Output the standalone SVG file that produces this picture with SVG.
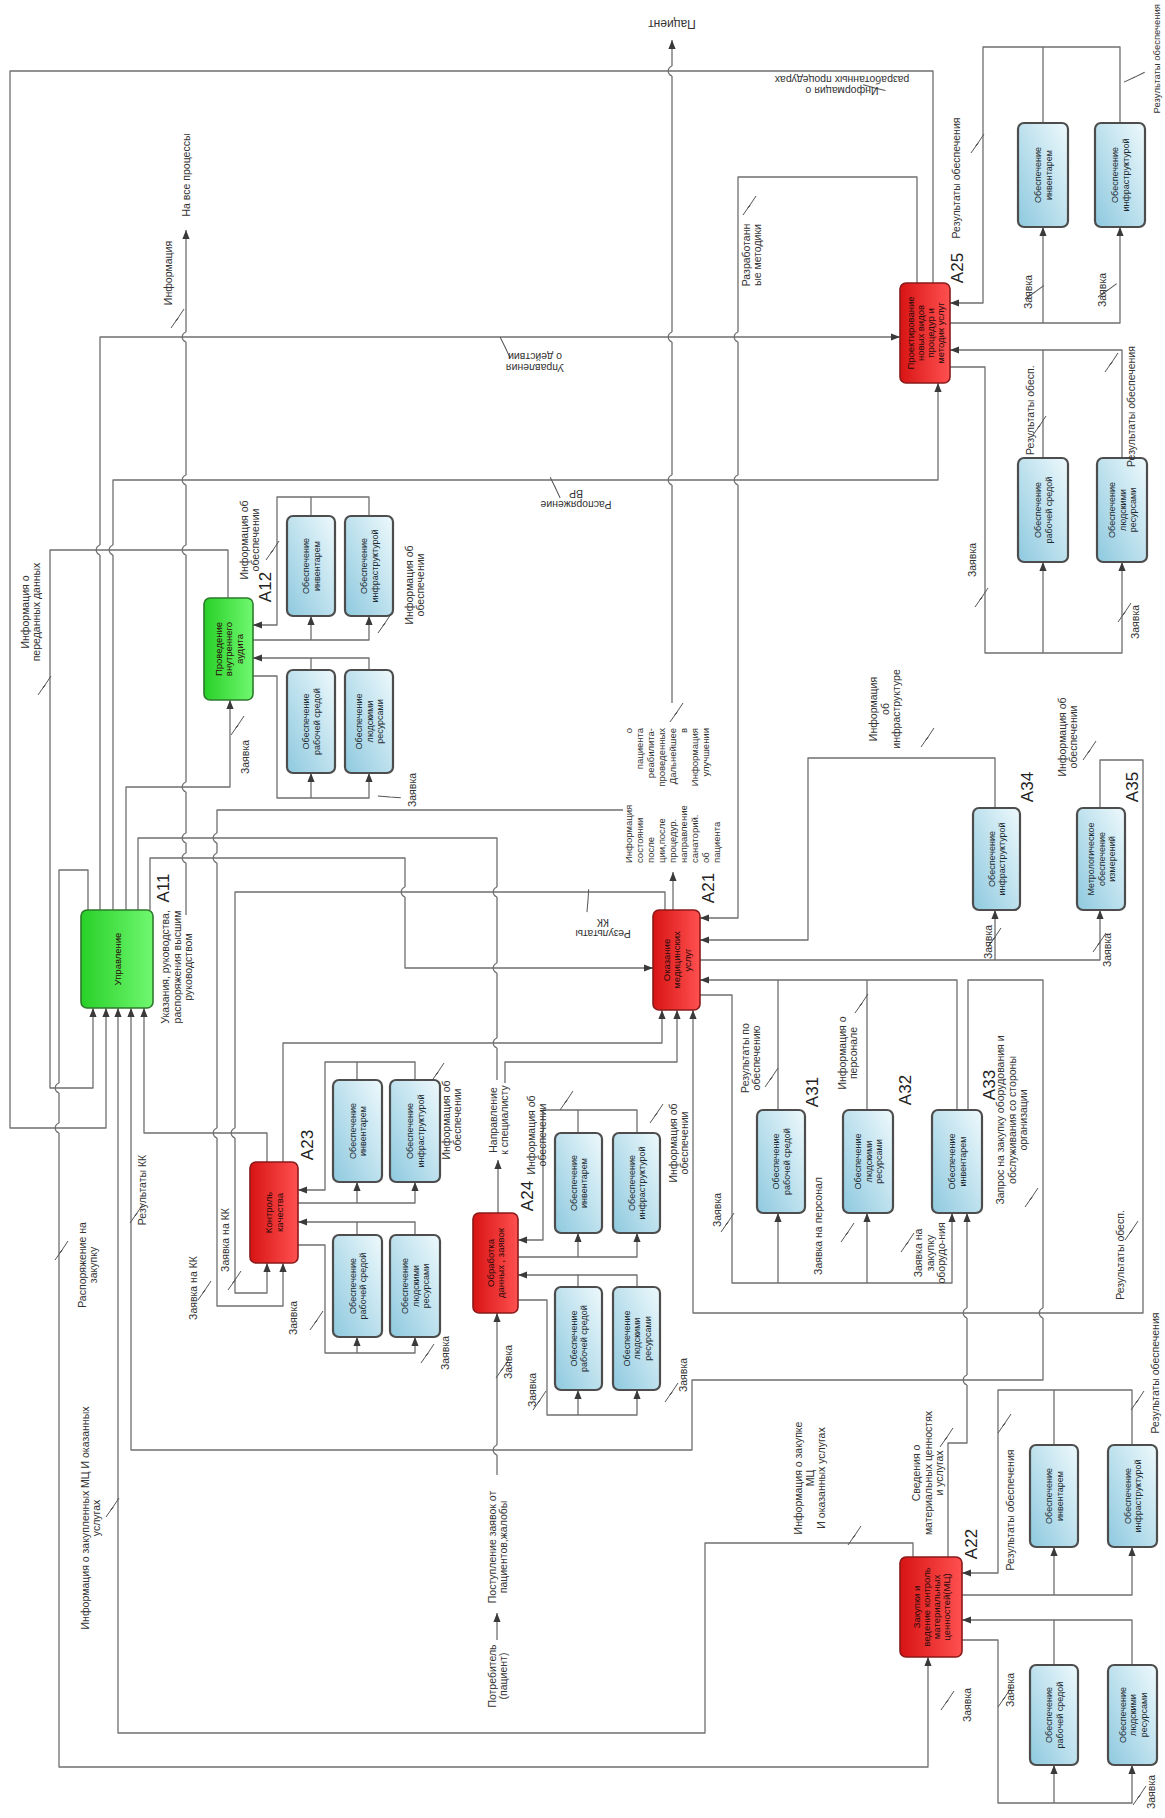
<svg xmlns="http://www.w3.org/2000/svg" width="1165" height="1818" viewBox="0 0 1165 1818">
<style>
.ln{fill:none;stroke:#6f6f6f;stroke-width:1.3;stroke-linejoin:round}
.a{marker-end:url(#arr)}
.zz{fill:none;stroke:#555;stroke-width:1}
text{font-family:"Liberation Sans",Arial,sans-serif;fill:#333}
.t{font-size:10.5px;text-anchor:middle}
.ts{font-size:10.5px;text-anchor:start}
.tj{font-size:9.5px;text-anchor:start}
.te{font-size:9.5px;text-anchor:end}
.big{font-size:17px;text-anchor:middle;fill:#222}
.bt{font-size:9px;text-anchor:middle;fill:#1e2a30}
.mt{font-size:9.5px;text-anchor:middle;fill:#2a0a0a}
.sub{fill:url(#gB);stroke:#4d4d4d;stroke-width:2.2}
.red{fill:url(#gR);stroke:#8a1a1a;stroke-width:1.6}
.grn{fill:url(#gG);stroke:#2c7a2c;stroke-width:1.6}
</style>
<defs>
<marker id="arr" viewBox="0 0 10 8" refX="10" refY="4" markerWidth="9" markerHeight="8" markerUnits="userSpaceOnUse" orient="auto"><path d="M0,0L10,4L0,8z" fill="#3a3a3a"/></marker>
<linearGradient id="gB" x1="0" y1="1" x2="1" y2="0"><stop offset="0" stop-color="#8ec9df"/><stop offset="1" stop-color="#eef9fc"/></linearGradient>
<linearGradient id="gR" x1="0" y1="0" x2="1" y2="0"><stop offset="0" stop-color="#d81414"/><stop offset="1" stop-color="#ff5050"/></linearGradient>
<linearGradient id="gG" x1="0" y1="0" x2="1" y2="0"><stop offset="0" stop-color="#28d028"/><stop offset="1" stop-color="#70f870"/></linearGradient>
<g id="hop"><rect x="-3" y="-5" width="6" height="10" fill="#fff"/><path d="M-3,0H3M0,-5C-5,-3 -5,3 0,5" class="ln"/></g>
<path id="zz" d="M-7,10 L0,0 L-2,3 L6,-9" class="zz"/>
</defs>

<g id="connectors">
<path class="ln a" d="M933,283V71H10V1128H106V1008"/>
<path class="ln a" d="M100,910V337H900"/>
<path class="ln a" d="M113,910V480H938V383"/>
<path class="ln a" d="M126,910V787H230V700"/>
<path class="ln" d="M138,910V838H497V1080"/>
<path class="ln a" d="M150,910V858H405V968H653"/>
<path class="ln a" d="M88,910V870H59V1767H928V1657"/>
<path class="ln a" d="M228,598V550H50V1088H93V1008"/>
<path class="ln a" d="M672,703V40"/>
<path class="ln a" d="M673,910V872"/>
<path class="ln a" d="M917,283V177H738V918H700"/>
<path class="ln a" d="M665,910V892H235V1293H267V1263"/>
<path class="ln a" d="M623,810H217V1306H283V1263"/>
<path class="ln a" d="M267,1162V1133H144V1008"/>
<path class="ln a" d="M283,1162V1043H662V1010"/>
<path class="ln a" d="M968,1110V980H1043V1380H692V1450H131V1008"/>
<path class="ln a" d="M913,1557V1543H705V1733H118V1008"/>
<path class="ln a" d="M948,1557V1443H967V1213"/>
<path class="ln a" d="M498,1213V1160"/>
<path class="ln a" d="M505,1083V1062H677V1010"/>
<path class="ln a" d="M700,960H1100V910"/>
<path class="ln a" d="M995,960V910"/>
<path class="ln a" d="M995,808V758H808V940H700"/>
<path class="ln a" d="M1100,808V760H1143V1313H693V1010"/>
<path class="ln a" d="M957,1110V980H700"/>
<path class="ln" d="M778,1110V980M867,1110V980"/>
<path class="ln a" d="M700,995H732V1283H952V1213"/>
<path class="ln a" d="M778,1283V1213"/>
<path class="ln a" d="M867,1283V1213"/>
<path class="ln a" d="M186,915V230"/>
<!-- A25 group -->
<path class="ln a" d="M1043,123V47H983V303H950"/>
<path class="ln" d="M1120,123V47H1043"/>
<path class="ln a" d="M950,323H1120V227"/>
<path class="ln a" d="M1043,323V227"/>
<path class="ln a" d="M1043,458V350H950"/>
<path class="ln" d="M1122,458V350H1043"/>
<path class="ln a" d="M950,367H985V653H1122V562"/>
<path class="ln a" d="M1043,653V562"/>
<!-- A12 group -->
<path class="ln" d="M311,516V497H369V516"/>
<path class="ln a" d="M311,497H277V625H253"/>
<path class="ln a" d="M253,640H369V616"/>
<path class="ln a" d="M311,640V616"/>
<path class="ln a" d="M311,670V658H253"/>
<path class="ln" d="M369,670V658H311"/>
<path class="ln a" d="M253,676H277V798H369V773"/>
<path class="ln a" d="M311,798V773"/>
<!-- A23 group -->
<path class="ln" d="M357,1080V1062H415V1080"/>
<path class="ln a" d="M357,1062H325V1190H298"/>
<path class="ln a" d="M298,1203H415V1182"/>
<path class="ln a" d="M357,1203V1182"/>
<path class="ln a" d="M357,1235V1222H298"/>
<path class="ln" d="M415,1235V1222H357"/>
<path class="ln a" d="M298,1245H325V1353H415V1337"/>
<path class="ln a" d="M357,1353V1337"/>
<!-- A24 group -->
<path class="ln" d="M578,1133V1110H637V1133"/>
<path class="ln a" d="M578,1110H543V1240H518"/>
<path class="ln a" d="M518,1257H637V1233"/>
<path class="ln a" d="M578,1257V1233"/>
<path class="ln a" d="M578,1287V1275H518"/>
<path class="ln" d="M637,1287V1275H578"/>
<path class="ln a" d="M518,1300H547V1415H637V1390"/>
<path class="ln a" d="M578,1415V1390"/>
<path class="ln a" d="M497,1475V1313"/>
<path class="ln a" d="M497,1640V1613"/>
<!-- A22 group -->
<path class="ln" d="M1054,1445V1390H1132V1445"/>
<path class="ln a" d="M1054,1390H998V1573H962"/>
<path class="ln a" d="M962,1595H1132V1547"/>
<path class="ln a" d="M1054,1595V1547"/>
<path class="ln a" d="M1054,1665V1620H962"/>
<path class="ln" d="M1132,1665V1620H1054"/>
<path class="ln a" d="M962,1640H998V1803H1132V1765"/>
<path class="ln a" d="M1054,1803V1765"/>
<!-- hops -->
<use href="#hop" x="186" y="337"/><use href="#hop" x="186" y="480"/><use href="#hop" x="186" y="550"/>
<use href="#hop" x="186" y="787"/><use href="#hop" x="186" y="838"/><use href="#hop" x="186" y="858"/>
<use href="#hop" x="672" y="71"/><use href="#hop" x="672" y="337"/><use href="#hop" x="672" y="480"/>
<use href="#hop" x="738" y="337"/><use href="#hop" x="738" y="480"/>
<use href="#hop" x="100" y="550"/><use href="#hop" x="113" y="550"/>
<use href="#hop" x="59" y="1088"/><use href="#hop" x="59" y="1128"/>
<use href="#hop" x="217" y="838"/><use href="#hop" x="217" y="858"/><use href="#hop" x="217" y="1133"/><use href="#hop" x="235" y="1133"/>
<use href="#hop" x="497" y="892"/><use href="#hop" x="497" y="968"/><use href="#hop" x="497" y="1043"/><use href="#hop" x="405" y="892"/>
<use href="#hop" x="497" y="1450"/><use href="#hop" x="967" y="1380"/><use href="#hop" x="967" y="1313"/><use href="#hop" x="1043" y="1313"/>
<!-- squiggles -->
<use href="#zz" transform="translate(178 318)"/>
<use href="#zz" transform="translate(45 685)"/>
<use href="#zz" transform="translate(750 205)"/>
<use href="#zz" transform="translate(978 143)"/>
<use href="#zz" transform="translate(1035 292) rotate(20)"/>
<use href="#zz" transform="translate(1108 290) rotate(20)"/>
<use href="#zz" transform="translate(1135 77) rotate(30)"/>
<use href="#zz" transform="translate(1040 425)"/>
<use href="#zz" transform="translate(1112 362)"/>
<use href="#zz" transform="translate(982 597)"/>
<use href="#zz" transform="translate(1125 612)"/>
<use href="#zz" transform="translate(875 88) rotate(70)"/>
<use href="#zz" transform="translate(505 347) rotate(-60)"/>
<use href="#zz" transform="translate(555 487) rotate(-60)"/>
<use href="#zz" transform="translate(273 550)"/>
<use href="#zz" transform="translate(238 725)"/>
<use href="#zz" transform="translate(385 623)"/>
<use href="#zz" transform="translate(390 797) rotate(60)"/>
<use href="#zz" transform="translate(62 1250)"/>
<use href="#zz" transform="translate(113 1507)"/>
<use href="#zz" transform="translate(137 1213)"/>
<use href="#zz" transform="translate(205 1290)"/>
<use href="#zz" transform="translate(235 1280)"/>
<use href="#zz" transform="translate(317 1320)"/>
<use href="#zz" transform="translate(428 1353)"/>
<use href="#zz" transform="translate(438 1072)"/>
<use href="#zz" transform="translate(588 900) rotate(-30)"/>
<use href="#zz" transform="translate(677 712)"/>
<use href="#zz" transform="translate(567 1100)"/>
<use href="#zz" transform="translate(657 1113)"/>
<use href="#zz" transform="translate(772 1077)"/>
<use href="#zz" transform="translate(728 1222)"/>
<use href="#zz" transform="translate(862 1003)"/>
<use href="#zz" transform="translate(848 1232)"/>
<use href="#zz" transform="translate(908 1242)"/>
<use href="#zz" transform="translate(1032 1197)"/>
<use href="#zz" transform="translate(1132 1230)"/>
<use href="#zz" transform="translate(1138 1400)"/>
<use href="#zz" transform="translate(928 737)"/>
<use href="#zz" transform="translate(1090 750)"/>
<use href="#zz" transform="translate(995 937)"/>
<use href="#zz" transform="translate(1100 942)"/>
<use href="#zz" transform="translate(855 1535)"/>
<use href="#zz" transform="translate(947 1437)"/>
<use href="#zz" transform="translate(1005 1423)"/>
<use href="#zz" transform="translate(948 1700)"/>
<use href="#zz" transform="translate(1005 1697)"/>
<use href="#zz" transform="translate(1140 1795)"/>
<use href="#zz" transform="translate(503 1368)"/>
<use href="#zz" transform="translate(540 1400)"/>
<use href="#zz" transform="translate(672 1392)"/>
</g>

<g id="A11"><rect class="grn" x="81" y="910" width="72" height="98" rx="6"/><text class="mt" transform="translate(117 959) rotate(-90)" y="3.5">Управление</text><text class="big" transform="translate(163 888) rotate(-90)" y="6">A11</text></g>
<g id="A12"><rect class="grn" x="204" y="598" width="49" height="102" rx="6"/><text class="mt" transform="translate(228.5 649) rotate(-90)"><tspan x="0" y="-7">Проведение</tspan><tspan x="0" y="3.5">внутреннего</tspan><tspan x="0" y="14">аудита</tspan></text><text class="big" transform="translate(265 587) rotate(-90)" y="6">A12</text></g>
<g id="A25"><rect class="red" x="900" y="283" width="50" height="100" rx="6"/><text class="mt" transform="translate(925 333) rotate(-90)"><tspan x="0" y="-11.5">Проектирование</tspan><tspan x="0" y="-1.5">новых видов</tspan><tspan x="0" y="8.5">процедур и</tspan><tspan x="0" y="18.5">методик услуг</tspan></text><text class="big" transform="translate(957 268) rotate(-90)" y="6">A25</text></g>
<g id="A21"><rect class="red" x="653" y="910" width="47" height="100" rx="6"/><text class="mt" transform="translate(676.5 960) rotate(-90)"><tspan x="0" y="-7">Оказание</tspan><tspan x="0" y="3.5">медицинских</tspan><tspan x="0" y="14">услуг</tspan></text><text class="big" transform="translate(708 888) rotate(-90)" y="6">A21</text></g>
<g id="A23"><rect class="red" x="250" y="1162" width="48" height="101" rx="6"/><text class="mt" transform="translate(274 1212.5) rotate(-90)"><tspan x="0" y="-1.75">Контроль</tspan><tspan x="0" y="8.75">качества</tspan></text><text class="big" transform="translate(307 1145) rotate(-90)" y="6">A23</text></g>
<g id="A24"><rect class="red" x="473" y="1213" width="45" height="100" rx="6"/><text class="mt" transform="translate(495.5 1263) rotate(-90)"><tspan x="0" y="-1.75">Обработка</tspan><tspan x="0" y="8.75">данных , заявок</tspan></text><text class="big" transform="translate(527 1196) rotate(-90)" y="6">A24</text></g>
<g id="A22"><rect class="red" x="900" y="1557" width="62" height="100" rx="6"/><text class="mt" transform="translate(931 1607) rotate(-90)"><tspan x="0" y="-11.5">Закупки и</tspan><tspan x="0" y="-1.5">ведение контроль</tspan><tspan x="0" y="8.5">материальных</tspan><tspan x="0" y="18.5">ценностей(МЦ)</tspan></text><text class="big" transform="translate(971 1544) rotate(-90)" y="6">A22</text></g>
<g id="A31"><rect class="sub" x="757" y="1110" width="48" height="103" rx="6"/><text class="bt" transform="translate(781 1161.5) rotate(-90)"><tspan x="0" y="-1.75">Обеспечение</tspan><tspan x="0" y="8.75">рабочей средой</tspan></text><text class="big" transform="translate(812 1092) rotate(-90)" y="6">A31</text></g>
<g id="A32"><rect class="sub" x="843" y="1110" width="50" height="103" rx="6"/><text class="bt" transform="translate(868 1161.5) rotate(-90)"><tspan x="0" y="-7">Обеспечение</tspan><tspan x="0" y="3.5">людскими</tspan><tspan x="0" y="14">ресурсами</tspan></text><text class="big" transform="translate(905 1090) rotate(-90)" y="6">A32</text></g>
<g id="A33"><rect class="sub" x="932" y="1110" width="50" height="103" rx="6"/><text class="bt" transform="translate(957 1161.5) rotate(-90)"><tspan x="0" y="-1.75">Обеспечение</tspan><tspan x="0" y="8.75">инвентарем</tspan></text><text class="big" transform="translate(989 1085) rotate(-90)" y="6">A33</text></g>
<g id="A34"><rect class="sub" x="973" y="808" width="47" height="102" rx="6"/><text class="bt" transform="translate(996.5 859) rotate(-90)"><tspan x="0" y="-1.75">Обеспечение</tspan><tspan x="0" y="8.75">инфраструктурой</tspan></text><text class="big" transform="translate(1027 787) rotate(-90)" y="6">A34</text></g>
<g id="A35"><rect class="sub" x="1077" y="808" width="48" height="102" rx="6"/><text class="bt" transform="translate(1101 859) rotate(-90)"><tspan x="0" y="-7">Метрологическое</tspan><tspan x="0" y="3.5">обеспечение</tspan><tspan x="0" y="14">измерений</tspan></text><text class="big" transform="translate(1132 787) rotate(-90)" y="6">A35</text></g>

<g id="A25-subs">
<rect class="sub" x="1018" y="123" width="50" height="104" rx="6"/><text class="bt" transform="translate(1043 175) rotate(-90)"><tspan x="0" y="-1.75">Обеспечение</tspan><tspan x="0" y="8.75">инвентарем</tspan></text>
<rect class="sub" x="1095" y="123" width="50" height="104" rx="6"/><text class="bt" transform="translate(1120 175) rotate(-90)"><tspan x="0" y="-1.75">Обеспечение</tspan><tspan x="0" y="8.75">инфраструктурой</tspan></text>
<rect class="sub" x="1018" y="458" width="50" height="104" rx="6"/><text class="bt" transform="translate(1043 510) rotate(-90)"><tspan x="0" y="-1.75">Обеспечение</tspan><tspan x="0" y="8.75">рабочей средой</tspan></text>
<rect class="sub" x="1097" y="458" width="50" height="104" rx="6"/><text class="bt" transform="translate(1122 510) rotate(-90)"><tspan x="0" y="-7">Обеспечение</tspan><tspan x="0" y="3.5">людскими</tspan><tspan x="0" y="14">ресурсами</tspan></text>
</g>
<g id="A12-subs">
<rect class="sub" x="287" y="516" width="48" height="100" rx="6"/><text class="bt" transform="translate(311 566) rotate(-90)"><tspan x="0" y="-1.75">Обеспечение</tspan><tspan x="0" y="8.75">инвентарем</tspan></text>
<rect class="sub" x="345" y="516" width="48" height="100" rx="6"/><text class="bt" transform="translate(369 566) rotate(-90)"><tspan x="0" y="-1.75">Обеспечение</tspan><tspan x="0" y="8.75">инфраструктурой</tspan></text>
<rect class="sub" x="287" y="670" width="48" height="103" rx="6"/><text class="bt" transform="translate(311 721.5) rotate(-90)"><tspan x="0" y="-1.75">Обеспечение</tspan><tspan x="0" y="8.75">рабочей средой</tspan></text>
<rect class="sub" x="345" y="670" width="48" height="103" rx="6"/><text class="bt" transform="translate(369 721.5) rotate(-90)"><tspan x="0" y="-7">Обеспечение</tspan><tspan x="0" y="3.5">людскими</tspan><tspan x="0" y="14">ресурсами</tspan></text>
</g>
<g id="A23-subs">
<rect class="sub" x="333" y="1080" width="49" height="102" rx="6"/><text class="bt" transform="translate(357.5 1131) rotate(-90)"><tspan x="0" y="-1.75">Обеспечение</tspan><tspan x="0" y="8.75">инвентарем</tspan></text>
<rect class="sub" x="390" y="1080" width="50" height="102" rx="6"/><text class="bt" transform="translate(415 1131) rotate(-90)"><tspan x="0" y="-1.75">Обеспечение</tspan><tspan x="0" y="8.75">инфраструктурой</tspan></text>
<rect class="sub" x="333" y="1235" width="49" height="102" rx="6"/><text class="bt" transform="translate(357.5 1286) rotate(-90)"><tspan x="0" y="-1.75">Обеспечение</tspan><tspan x="0" y="8.75">рабочей средой</tspan></text>
<rect class="sub" x="390" y="1235" width="50" height="102" rx="6"/><text class="bt" transform="translate(415 1286) rotate(-90)"><tspan x="0" y="-7">Обеспечение</tspan><tspan x="0" y="3.5">людскими</tspan><tspan x="0" y="14">ресурсами</tspan></text>
</g>
<g id="A24-subs">
<rect class="sub" x="555" y="1133" width="47" height="100" rx="6"/><text class="bt" transform="translate(578.5 1183) rotate(-90)"><tspan x="0" y="-1.75">Обеспечение</tspan><tspan x="0" y="8.75">инвентарем</tspan></text>
<rect class="sub" x="613" y="1133" width="47" height="100" rx="6"/><text class="bt" transform="translate(636.5 1183) rotate(-90)"><tspan x="0" y="-1.75">Обеспечение</tspan><tspan x="0" y="8.75">инфраструктурой</tspan></text>
<rect class="sub" x="555" y="1287" width="47" height="103" rx="6"/><text class="bt" transform="translate(578.5 1338.5) rotate(-90)"><tspan x="0" y="-1.75">Обеспечение</tspan><tspan x="0" y="8.75">рабочей средой</tspan></text>
<rect class="sub" x="613" y="1287" width="47" height="103" rx="6"/><text class="bt" transform="translate(636.5 1338.5) rotate(-90)"><tspan x="0" y="-7">Обеспечение</tspan><tspan x="0" y="3.5">людскими</tspan><tspan x="0" y="14">ресурсами</tspan></text>
</g>
<g id="A22-subs">
<rect class="sub" x="1030" y="1445" width="48" height="102" rx="6"/><text class="bt" transform="translate(1054 1496) rotate(-90)"><tspan x="0" y="-1.75">Обеспечение</tspan><tspan x="0" y="8.75">инвентарем</tspan></text>
<rect class="sub" x="1108" y="1445" width="49" height="102" rx="6"/><text class="bt" transform="translate(1132.5 1496) rotate(-90)"><tspan x="0" y="-1.75">Обеспечение</tspan><tspan x="0" y="8.75">инфраструктурой</tspan></text>
<rect class="sub" x="1030" y="1665" width="48" height="100" rx="6"/><text class="bt" transform="translate(1054 1715) rotate(-90)"><tspan x="0" y="-1.75">Обеспечение</tspan><tspan x="0" y="8.75">рабочей средой</tspan></text>
<rect class="sub" x="1108" y="1665" width="49" height="100" rx="6"/><text class="bt" transform="translate(1132.5 1715) rotate(-90)"><tspan x="0" y="-7">Обеспечение</tspan><tspan x="0" y="3.5">людскими</tspan><tspan x="0" y="14">ресурсами</tspan></text>
</g>

<g id="labels">
<text class="t" transform="translate(168 273) rotate(-90)" y="3.5">Информация</text>
<text class="t" transform="translate(186 175) rotate(-90)" y="3.5">На все процессы</text>
<text class="t" transform="translate(31 612) rotate(-90)"><tspan x="0" y="-2.25">Информация о</tspan><tspan x="0" y="9.25">переданных данных</tspan></text>
<text class="t" transform="translate(752 255) rotate(-90)"><tspan x="0" y="-2.25">Разработанн</tspan><tspan x="0" y="9.25">ые методики</tspan></text>
<text class="t" transform="translate(956 178) rotate(-90)" y="3.5">Результаты обеспечения</text>
<text class="t" transform="translate(1028 292) rotate(-90)" y="3.5">Заявка</text>
<text class="t" transform="translate(1102 290) rotate(-90)" y="3.5">Заявка</text>
<text class="t" transform="translate(1156 4) rotate(-90)" y="3.5" style="text-anchor:end;font-size:9.5px">Результаты обеспечения</text>
<text class="ts" transform="translate(1030 455) rotate(-90)" y="3.5">Результаты обесп.</text>
<text class="ts" transform="translate(1131 467) rotate(-90)" y="3.5">Результаты обеспечения</text>
<text class="t" transform="translate(972 560) rotate(-90)" y="3.5">Заявка</text>
<text class="t" transform="translate(1135 622) rotate(-90)" y="3.5">Заявка</text>
<text class="t" transform="translate(842 85) rotate(180)"><tspan x="0" y="-2.25">Информация о</tspan><tspan x="0" y="9.25">разработанных процедурах</tspan></text>
<text class="t" transform="translate(535 362) rotate(180)"><tspan x="0" y="-2.25">Управления</tspan><tspan x="0" y="9.25">о действии</tspan></text>
<text class="t" transform="translate(576 499) rotate(180)"><tspan x="0" y="-2.25">Распоряжение</tspan><tspan x="0" y="9.25">ВР</tspan></text>
<text class="t" transform="translate(672 24) rotate(180)" y="4" style="font-size:12px">Пациент</text>
<text class="t" transform="translate(250 540) rotate(-90)"><tspan x="0" y="-2.25">Информация об</tspan><tspan x="0" y="9.25">обеспечении</tspan></text>
<text class="t" transform="translate(245 757) rotate(-90)" y="3.5">Заявка</text>
<text class="t" transform="translate(415 585) rotate(-90)"><tspan x="0" y="-2.25">Информация об</tspan><tspan x="0" y="9.25">обеспечении</tspan></text>
<text class="t" transform="translate(412 790) rotate(-90)" y="3.5">Заявка</text>
<text class="t" transform="translate(177 967) rotate(-90)"><tspan x="0" y="-8">Указания, руководства,</tspan><tspan x="0" y="3.5">распоряжения высшим</tspan><tspan x="0" y="15">руководством</tspan></text>
<text class="t" transform="translate(88 1265) rotate(-90)"><tspan x="0" y="-2.25">Распоряжение на</tspan><tspan x="0" y="9.25">закупку</tspan></text>
<text class="t" transform="translate(142 1190) rotate(-90)" y="3.5">Результаты КК</text>
<text class="t" transform="translate(193 1288) rotate(-90)" y="3.5">Заявка на КК</text>
<text class="t" transform="translate(225 1240) rotate(-90)" y="3.5">Заявка на КК</text>
<text class="t" transform="translate(293 1318) rotate(-90)" y="3.5">Заявка</text>
<text class="t" transform="translate(445 1353) rotate(-90)" y="3.5">Заявка</text>
<text class="t" transform="translate(452 1120) rotate(-90)"><tspan x="0" y="-2.25">Информация об</tspan><tspan x="0" y="9.25">обеспечении</tspan></text>
<text class="t" transform="translate(603 928) rotate(180)"><tspan x="0" y="-2.25">Результаты</tspan><tspan x="0" y="9.25">КК</tspan></text>
<text class="tj" transform="translate(628 863) rotate(-90)" y="3.5">Информация</text><text class="te" transform="translate(628 728) rotate(-90)" y="3.5">о</text>
<text class="tj" transform="translate(639 863) rotate(-90)" y="3.5">состоянии</text><text class="te" transform="translate(639 728) rotate(-90)" y="3.5">пациента</text>
<text class="tj" transform="translate(650 863) rotate(-90)" y="3.5">после</text><text class="te" transform="translate(650 728) rotate(-90)" y="3.5">реабилита-</text>
<text class="tj" transform="translate(661 863) rotate(-90)" y="3.5">ции,после</text><text class="te" transform="translate(661 728) rotate(-90)" y="3.5">проведенных</text>
<text class="tj" transform="translate(672 863) rotate(-90)" y="3.5">процедур.</text><text class="te" transform="translate(672 728) rotate(-90)" y="3.5">Дальнейшее</text>
<text class="tj" transform="translate(683 863) rotate(-90)" y="3.5">направление</text><text class="te" transform="translate(683 728) rotate(-90)" y="3.5">в</text>
<text class="tj" transform="translate(694 863) rotate(-90)" y="3.5">санаторий.</text><text class="te" transform="translate(694 728) rotate(-90)" y="3.5">Информация</text>
<text class="tj" transform="translate(705 863) rotate(-90)" y="3.5">об</text><text class="te" transform="translate(705 728) rotate(-90)" y="3.5">улучшении</text>
<text class="tj" transform="translate(716 863) rotate(-90)" y="3.5">пациента</text>
<text class="t" transform="translate(499 1120) rotate(-90)"><tspan x="0" y="-2.25">Направление</tspan><tspan x="0" y="9.25">к специалисту</tspan></text>
<text class="t" transform="translate(537 1135) rotate(-90)"><tspan x="0" y="-2.25">Информация об</tspan><tspan x="0" y="9.25">обеспечении</tspan></text>
<text class="t" transform="translate(679 1143) rotate(-90)"><tspan x="0" y="-2.25">Информация об</tspan><tspan x="0" y="9.25">обеспечении</tspan></text>
<text class="t" transform="translate(751 1058) rotate(-90)"><tspan x="0" y="-2.25">Результаты по</tspan><tspan x="0" y="9.25">обеспечению</tspan></text>
<text class="t" transform="translate(717 1210) rotate(-90)" y="3.5">Заявка</text>
<text class="t" transform="translate(848 1053) rotate(-90)"><tspan x="0" y="-2.25">Информация о</tspan><tspan x="0" y="9.25">персонале</tspan></text>
<text class="t" transform="translate(818 1226) rotate(-90)" y="3.5">Заявка на персонал</text>
<text class="t" transform="translate(930 1253) rotate(-90)"><tspan x="0" y="-8">Заявка на</tspan><tspan x="0" y="3.5">закупку</tspan><tspan x="0" y="15">оборудо-ния</tspan></text>
<text class="t" transform="translate(1012 1120) rotate(-90)"><tspan x="0" y="-8">Запрос на закупку оборудования и</tspan><tspan x="0" y="3.5">обслуживания  со стороны</tspan><tspan x="0" y="15">организации</tspan></text>
<text class="t" transform="translate(1120 1255) rotate(-90)" y="3.5">Результаты обесп.</text>
<text class="t" transform="translate(1155 1373) rotate(-90)" y="3.5">Результаты обеспечения</text>
<text class="t" transform="translate(885 709) rotate(-90)"><tspan x="0" y="-8">Информация</tspan><tspan x="0" y="3.5">об</tspan><tspan x="0" y="15">инфраструктуре</tspan></text>
<text class="t" transform="translate(1068 737) rotate(-90)"><tspan x="0" y="-2.25">Информация об</tspan><tspan x="0" y="9.25">обеспечении</tspan></text>
<text class="t" transform="translate(988 942) rotate(-90)" y="3.5">Заявка</text>
<text class="t" transform="translate(1107 950) rotate(-90)" y="3.5">Заявка</text>
<text class="t" transform="translate(91 1518) rotate(-90)"><tspan x="0" y="-2.25">Информация о закупленных МЦ И оказанных</tspan><tspan x="0" y="9.25">услугах</tspan></text>
<text class="t" transform="translate(498 1547) rotate(-90)"><tspan x="0" y="-2.25">Поступление заявок от</tspan><tspan x="0" y="9.25">пациентов,жалобы</tspan></text>
<text class="t" transform="translate(498 1676) rotate(-90)"><tspan x="0" y="-2.25">Потребитель</tspan><tspan x="0" y="9.25">(пациент)</tspan></text>
<text class="t" transform="translate(508 1362) rotate(-90)" y="3.5">Заявка</text>
<text class="t" transform="translate(532 1390) rotate(-90)" y="3.5">Заявка</text>
<text class="t" transform="translate(683 1375) rotate(-90)" y="3.5">Заявка</text>
<text class="t" transform="translate(810 1478) rotate(-90)"><tspan x="0" y="-8">Информация о закупке</tspan><tspan x="0" y="3.5">МЦ</tspan><tspan x="0" y="15">И оказанных услугах</tspan></text>
<text class="t" transform="translate(928 1473) rotate(-90)"><tspan x="0" y="-8">Сведения о</tspan><tspan x="0" y="3.5">материальных ценностях</tspan><tspan x="0" y="15">и услугах</tspan></text>
<text class="t" transform="translate(1010 1510) rotate(-90)" y="3.5">Результаты обеспечения</text>
<text class="t" transform="translate(967 1705) rotate(-90)" y="3.5">Заявка</text>
<text class="t" transform="translate(1010 1690) rotate(-90)" y="3.5">Заявка</text>
<text class="t" transform="translate(1151 1792) rotate(-90)" y="3.5">Заявка</text>
</g>
</svg>
